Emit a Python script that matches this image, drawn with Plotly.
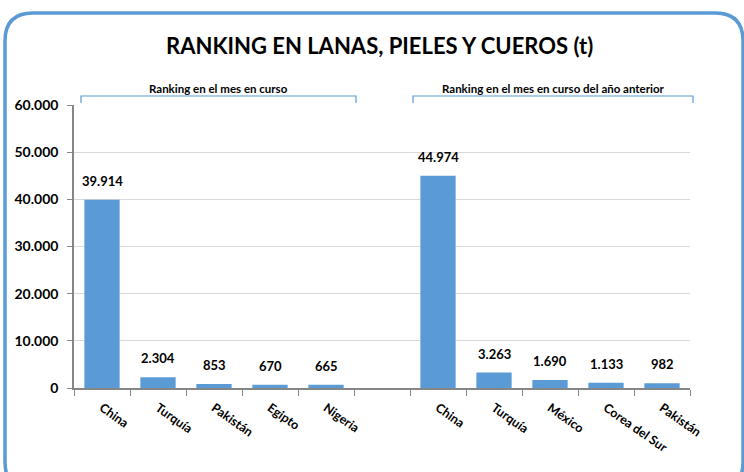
import plotly.graph_objects as go

# Data
categories = ["China", "Turquía", "Pakistán", "Egipto", "Nigeria", "",
              "China", "Turquía", "México", "Corea del Sur", "Pakistán"]
current_vals = [39914, 2304, 853, 670, 665]
prev_vals = [44974, 3263, 1690, 1133, 982]
group_labels = ["Ranking en el mes en curso", "Ranking en el mes en curso del año anterior"]
title_text = "RANKING EN LANAS, PIELES Y CUEROS (t)"
y_ticks = [0, 10000, 20000, 30000, 40000, 50000, 60000]

W, H = 744, 472
L, T = 74, 105
R = W - 690
B = H - 388
PW, PH = W - L - R, H - T - B

def px(x):
    return (x - L) / PW

def py(y):
    return (H - B - y) / PH

BLUE = "#5B9BD5"
FONT = "Lato"

xs = list(range(len(current_vals))) + [i + len(current_vals) + 1 for i in range(len(prev_vals))]
ys = current_vals + prev_vals

fig = go.Figure()
fig.add_trace(go.Bar(x=xs, y=ys, marker=dict(color=BLUE, line=dict(width=0)),
                     width=0.63, hoverinfo="skip"))

annotations = []
for x, y in zip(xs, ys):
    annotations.append(dict(x=x, y=y, xref="x", yref="y", text=f"{y:,}".replace(",", "."),
                            showarrow=False, yshift=19, yanchor="middle",
                            font=dict(family=FONT, size=13, color="#000000", weight="bold")))

annotations.append(dict(x=px(379), y=py(45), xref="paper", yref="paper", text=title_text,
                        showarrow=False, xanchor="center", yanchor="middle",
                        font=dict(family=FONT, size=22, color="#000000", weight="bold")))

brackets = [(81, 356), (413, 693)]
shapes = []
for (x0, x1), lab in zip(brackets, group_labels):
    shapes.append(dict(type="path", xref="paper", yref="paper",
                       path=f"M {px(x0)},{py(103)} L {px(x0)},{py(96)} L {px(x1)},{py(96)} L {px(x1)},{py(103)}",
                       line=dict(color=BLUE, width=1.2)))
    annotations.append(dict(x=px((x0 + x1) / 2), y=py(88), xref="paper", yref="paper", text=lab,
                            showarrow=False, xanchor="center", yanchor="middle",
                            font=dict(family=FONT, size=11.5, color="#000000", weight="bold")))

# rounded border
bx0, bx1, by0, by1, r = 5, 743, 13, 490, 28
path = (f"M {px(bx0)},{py(by0 + r)} Q {px(bx0)},{py(by0)} {px(bx0 + r)},{py(by0)} "
        f"L {px(bx1 - r)},{py(by0)} Q {px(bx1)},{py(by0)} {px(bx1)},{py(by0 + r)} "
        f"L {px(bx1)},{py(by1 - r)} Q {px(bx1)},{py(by1)} {px(bx1 - r)},{py(by1)} "
        f"L {px(bx0 + r)},{py(by1)} Q {px(bx0)},{py(by1)} {px(bx0)},{py(by1 - r)} Z")
shapes.append(dict(type="path", xref="paper", yref="paper", path=path,
                   line=dict(color=BLUE, width=3.5), layer="above"))

fig.update_layout(
    width=W, height=H,
    margin=dict(l=L, r=R, t=T, b=B),
    paper_bgcolor="white", plot_bgcolor="white",
    separators=",.",
    showlegend=False,
    font=dict(family=FONT, color="#000000"),
    annotations=annotations,
    shapes=shapes,
    xaxis=dict(range=[-0.5, len(categories) - 0.5], tickmode="array",
               tickvals=list(range(len(categories))), ticktext=categories,
               tickangle=35, ticks="", showgrid=False, zeroline=False,
               showline=True, linecolor="#868686", linewidth=2,
               ticklabelstandoff=6,
               tickfont=dict(family=FONT, size=12.5, color="#000000", weight="bold"),
               minor=dict(ticks="outside", tick0=-0.5, dtick=1, ticklen=6,
                          tickcolor="#868686", tickwidth=1, showgrid=False),
               fixedrange=True),
    yaxis=dict(range=[0, 60000], tickmode="array", tickvals=y_ticks,
               tickformat=",d", ticks="outside", ticklen=5, tickcolor="#868686",
               showgrid=True, gridcolor="#D9D9D9", gridwidth=1, zeroline=False,
               showline=True, linecolor="#868686", linewidth=1.5,
               ticklabelstandoff=6,
               tickfont=dict(family=FONT, size=14, color="#000000", weight="bold"),
               fixedrange=True),
)

fig.write_html("out.html", config={"displayModeBar": False},
               post_script="document.body.style.margin='0';document.body.style.overflow='hidden';")
